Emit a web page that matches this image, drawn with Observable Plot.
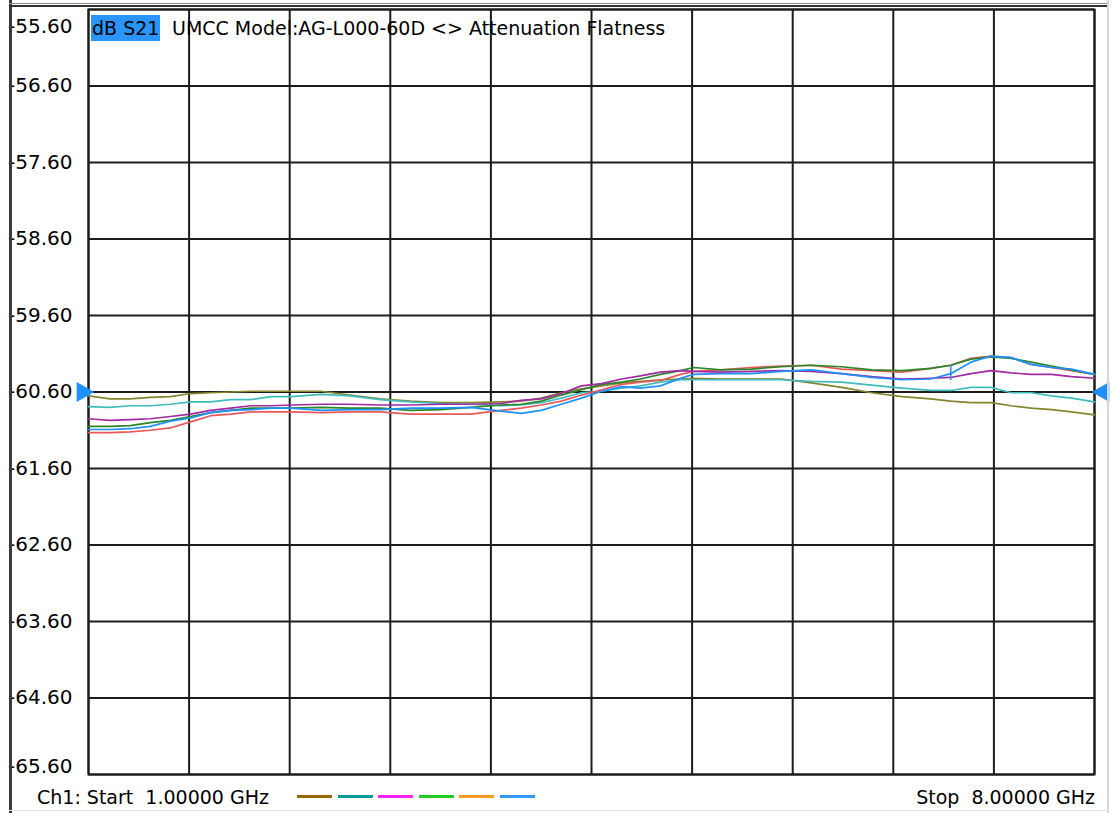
<!DOCTYPE html>
<html><head><meta charset="utf-8">
<script src="https://cdn.jsdelivr.net/npm/d3@7"></script>
<script src="https://cdn.jsdelivr.net/npm/@observablehq/plot@0.6"></script>
<style>
body{margin:0;background:#fff;}
#wrap{position:relative;width:1117px;height:813px;overflow:hidden;background:#fff;font-family:"DejaVu Sans",sans-serif;color:#000;}
#wrap svg{position:absolute;left:0;top:0;}
.abs{position:absolute;white-space:pre;}
</style></head><body><div id="wrap"></div>
<script>
// Frequency (GHz)
const freqGHz = [1.00,1.15,1.29,1.43,1.57,1.71,1.85,1.99,2.13,2.27,2.41,2.62,2.82,3.03,3.24,3.45,3.66,3.87,4.01,4.15,4.29,4.43,4.57,4.71,4.84,4.98,5.12,5.21,5.40,5.61,5.82,6.03,6.24,6.45,6.66,6.86,7.00,7.14,7.28,7.42,7.56,7.70,7.84,8.00];
// dB S21 traces
const traceOlive  = [-60.65,-60.69,-60.69,-60.67,-60.66,-60.62,-60.61,-60.60,-60.59,-60.59,-60.59,-60.59,-60.64,-60.69,-60.72,-60.74,-60.74,-60.73,-60.72,-60.68,-60.61,-60.56,-60.52,-60.48,-60.46,-60.44,-60.43,-60.42,-60.43,-60.43,-60.43,-60.48,-60.54,-60.61,-60.66,-60.69,-60.72,-60.74,-60.74,-60.78,-60.81,-60.83,-60.86,-60.90];
const traceTeal   = [-60.79,-60.80,-60.78,-60.78,-60.76,-60.73,-60.73,-60.70,-60.70,-60.66,-60.66,-60.63,-60.65,-60.70,-60.73,-60.75,-60.76,-60.78,-60.77,-60.74,-60.68,-60.61,-60.59,-60.55,-60.52,-60.47,-60.44,-60.44,-60.44,-60.44,-60.44,-60.46,-60.47,-60.51,-60.55,-60.58,-60.58,-60.54,-60.54,-60.61,-60.61,-60.65,-60.68,-60.73];
const tracePurple = [-60.95,-60.97,-60.96,-60.95,-60.92,-60.89,-60.84,-60.81,-60.78,-60.78,-60.77,-60.76,-60.76,-60.77,-60.77,-60.76,-60.76,-60.75,-60.71,-60.69,-60.62,-60.52,-60.49,-60.43,-60.39,-60.34,-60.32,-60.33,-60.34,-60.33,-60.32,-60.33,-60.36,-60.40,-60.43,-60.42,-60.41,-60.36,-60.32,-60.35,-60.37,-60.37,-60.40,-60.42];
const traceGreen  = [-61.05,-61.05,-61.04,-61.00,-60.97,-60.92,-60.87,-60.84,-60.81,-60.81,-60.81,-60.80,-60.81,-60.81,-60.84,-60.83,-60.80,-60.77,-60.76,-60.72,-60.64,-60.57,-60.50,-60.47,-60.43,-60.37,-60.32,-60.28,-60.31,-60.30,-60.27,-60.25,-60.27,-60.31,-60.32,-60.29,-60.25,-60.17,-60.14,-60.16,-60.21,-60.26,-60.31,-60.37];
const traceBlue   = [-61.09,-61.09,-61.08,-61.05,-60.98,-60.94,-60.87,-60.84,-60.83,-60.81,-60.81,-60.84,-60.83,-60.83,-60.81,-60.81,-60.80,-60.85,-60.88,-60.84,-60.76,-60.68,-60.59,-60.53,-60.55,-60.52,-60.42,-60.37,-60.36,-60.36,-60.33,-60.31,-60.36,-60.41,-60.44,-60.43,-60.36,-60.21,-60.13,-60.15,-60.24,-60.28,-60.30,-60.37];
const traceRed    = [-61.13,-61.13,-61.12,-61.10,-61.07,-60.99,-60.91,-60.89,-60.86,-60.86,-60.86,-60.87,-60.86,-60.86,-60.89,-60.89,-60.89,-60.84,-60.81,-60.77,-60.72,-60.64,-60.57,-60.50,-60.47,-60.45,-60.37,-60.33,-60.31,-60.28,-60.26,-60.25,-60.30,-60.32,-60.34,-60.29,-60.25,-60.16,-60.13,-60.15,-60.24,-60.28,-60.32,-60.37];

const traceNames  = ["olive","teal","red","green","purple","blue"];
const traceValues = [traceOlive, traceTeal, traceRed, traceGreen, tracePurple, traceBlue];
const traceColors = ["#85852e","#3fbcbc","#e85858","#2a862a","#a22aa2","#1e90ff"];
const legendColors = ["#996600","#009999","#ff22ff","#22cc22","#ff9922","#3399ff"];

const startGHz = 1, stopGHz = 8;
const yTop = -55.6, yBottom = -65.6;
const refLevel = -60.6;
const markerGHz = 7.0, markerLow = -60.45, markerHigh = -60.26;
const xTicks = d3.range(0, 11).map(i => +(startGHz + i * 0.7).toFixed(2));
const yTicks = d3.range(0, 11).map(i => +(yBottom + i).toFixed(2));
const titleTag = "dB S21";
const titleText = "UMCC Model:AG-L000-60D <> Attenuation Flatness";
const startText = "Ch1: Start  1.00000 GHz";
const stopText = "Stop  8.00000 GHz";

const rows = [];
traceValues.forEach((vals, k) => vals.forEach((v, i) => rows.push({f: freqGHz[i], v, trace: traceNames[k]})));

const gridStyle = {stroke: "#1c1c1c", strokeOpacity: 1, strokeWidth: 2};
const fmt = d => d.toFixed(2);

const chart = Plot.plot({
  width: 1117, height: 813,
  marginLeft: 88, marginRight: 23, marginTop: 9, marginBottom: 39,
  x: {domain: [startGHz, stopGHz], axis: null},
  y: {domain: [yBottom, yTop], axis: null},
  style: {fontFamily: '"DejaVu Sans", sans-serif', fontSize: "20px", color: "#000", background: "transparent"},
  marks: [
    Plot.gridX(xTicks, gridStyle),
    Plot.gridY(yTicks, gridStyle),
    Plot.frame({stroke: "#1c1c1c", strokeWidth: 2}),
    Plot.axisY(yTicks.slice(0, -1).slice(1), {tickSize: 0, tickPadding: 16, tickFormat: fmt, fontSize: 20, fill: "#000"}),
    Plot.axisY([yTop], {tickSize: 0, tickPadding: 16, tickFormat: fmt, fontSize: 20, fill: "#000", dy: 17}),
    Plot.axisY([yBottom], {tickSize: 0, tickPadding: 16, tickFormat: fmt, fontSize: 20, fill: "#000", dy: -8}),
    ...traceNames.map((name, k) => Plot.line(rows.filter(r => r.trace === name), {x: "f", y: "v", stroke: traceColors[k], strokeWidth: 1.7})),
    Plot.ruleX([{f: markerGHz, a: markerLow, b: markerHigh}], {x: "f", y1: "a", y2: "b", stroke: "#1e90ff", strokeWidth: 1.5}),
    Plot.dot([{f: startGHz, v: refLevel}], {x: "f", y: "v", symbol: "triangle", r: 7.5, fill: "#1e90ff", rotate: 90, dx: -6}),
    Plot.dot([{f: stopGHz, v: refLevel}], {x: "f", y: "v", symbol: "triangle", r: 7.5, fill: "#1e90ff", rotate: -90, dx: 9})
  ]
});
const wrap = document.getElementById("wrap");
wrap.appendChild(chart);

function addDiv(css, text) {
  const d = document.createElement("div");
  d.className = "abs";
  d.style.cssText = css;
  if (text != null) d.textContent = text;
  wrap.appendChild(d);
  return d;
}
// window chrome
addDiv("left:9px;top:0;width:3px;height:813px;background:#3a3a3a;");
addDiv("left:9px;top:3px;width:1100px;height:1px;background:#8a8a8a;");
addDiv("left:9px;top:5px;width:1100px;height:2px;background:#333;");
addDiv("left:1107px;top:0;width:2px;height:813px;background:#d6d6d6;");
addDiv("left:9px;top:810px;width:1100px;height:1px;background:#e2e2e2;");
// title
addDiv("left:91px;top:15px;height:26px;line-height:26px;font-size:19px;background:#2b95ff;padding:0 1px;", titleTag);
addDiv("left:172px;top:15px;height:26px;line-height:26px;font-size:19px;", titleText);
// footer
addDiv("left:37px;top:785px;line-height:24px;font-size:19px;", startText);
addDiv("right:22px;top:785px;line-height:24px;font-size:19px;", stopText);
legendColors.forEach((c, i) => addDiv(`left:${297 + i * 40.5}px;top:795px;width:35px;height:3px;background:${c};`));
</script></body></html>
